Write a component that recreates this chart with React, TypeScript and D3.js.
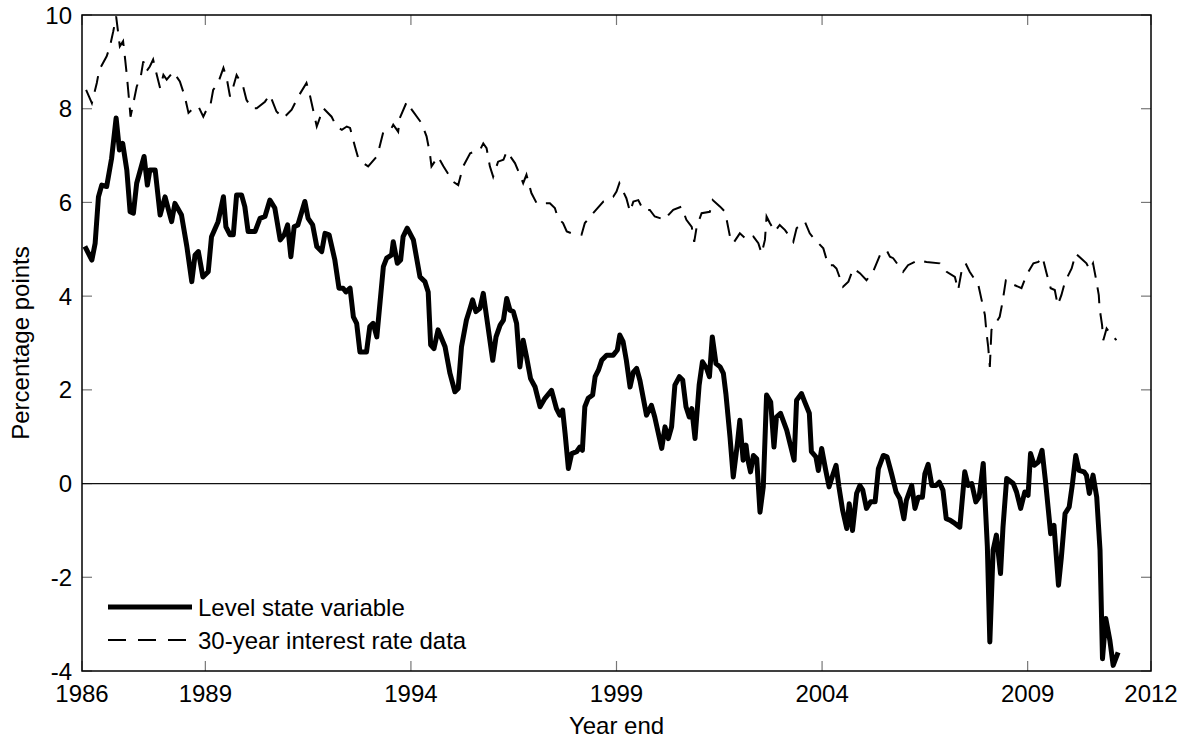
import * as d3 from 'd3'

// decimal years, with the matching values
const levelYears = [1986.07,1986.24,1986.32,1986.40,1986.48,1986.60,1986.72,1986.83,1986.91,1986.99,1987.09,1987.17,1987.25,1987.33,1987.51,1987.59,1987.65,1987.78,1987.90,1988.02,1988.18,1988.26,1988.42,1988.55,1988.67,1988.75,1988.83,1988.94,1989.07,1989.15,1989.31,1989.44,1989.50,1989.60,1989.68,1989.76,1989.88,1989.96,1990.04,1990.21,1990.33,1990.45,1990.57,1990.69,1990.82,1990.92,1991.00,1991.08,1991.16,1991.25,1991.42,1991.50,1991.61,1991.71,1991.83,1991.91,1992.01,1992.15,1992.25,1992.35,1992.42,1992.52,1992.60,1992.68,1992.76,1992.92,1993.00,1993.08,1993.17,1993.33,1993.41,1993.53,1993.57,1993.67,1993.75,1993.81,1993.91,1994.06,1994.22,1994.34,1994.42,1994.48,1994.56,1994.66,1994.83,1994.95,1995.07,1995.15,1995.23,1995.35,1995.44,1995.50,1995.58,1995.68,1995.76,1995.84,1995.99,1996.07,1996.17,1996.25,1996.33,1996.41,1996.49,1996.57,1996.65,1996.73,1996.81,1996.91,1997.02,1997.14,1997.26,1997.42,1997.54,1997.62,1997.69,1997.75,1997.83,1997.91,1998.03,1998.11,1998.17,1998.23,1998.31,1998.42,1998.48,1998.56,1998.64,1998.76,1998.92,1999.02,1999.08,1999.16,1999.24,1999.33,1999.41,1999.49,1999.57,1999.73,1999.85,1999.93,2000.10,2000.18,2000.26,2000.34,2000.42,2000.53,2000.61,2000.69,2000.77,2000.83,2000.91,2001.01,2001.09,2001.19,2001.26,2001.33,2001.42,2001.52,2001.60,2001.66,2001.76,2001.84,2001.94,2002.00,2002.08,2002.15,2002.19,2002.26,2002.33,2002.41,2002.49,2002.57,2002.65,2002.75,2002.83,2002.89,2002.99,2003.14,2003.23,2003.32,2003.38,2003.50,2003.58,2003.69,2003.74,2003.85,2003.91,2003.99,2004.09,2004.17,2004.27,2004.34,2004.41,2004.50,2004.60,2004.66,2004.74,2004.84,2004.92,2004.99,2005.08,2005.18,2005.29,2005.37,2005.49,2005.58,2005.69,2005.80,2005.89,2005.99,2006.05,2006.18,2006.26,2006.34,2006.44,2006.50,2006.58,2006.67,2006.77,2006.85,2006.94,2007.02,2007.11,2007.23,2007.35,2007.47,2007.55,2007.64,2007.74,2007.82,2007.92,2008.02,2008.08,2008.16,2008.24,2008.34,2008.40,2008.49,2008.65,2008.73,2008.83,2008.93,2009.01,2009.07,2009.16,2009.26,2009.35,2009.44,2009.56,2009.64,2009.75,2009.82,2009.91,2010.01,2010.09,2010.17,2010.25,2010.37,2010.43,2010.50,2010.59,2010.68,2010.76,2010.82,2010.90,2011.00,2011.08,2011.20]
const levelValues = [5.06,4.77,5.13,6.12,6.37,6.34,6.94,7.80,7.12,7.26,6.69,5.80,5.77,6.41,6.98,6.37,6.69,6.69,5.73,6.12,5.59,5.98,5.73,5.06,4.31,4.88,4.95,4.41,4.52,5.27,5.59,6.12,5.48,5.31,5.31,6.16,6.16,5.91,5.38,5.38,5.66,5.70,6.05,5.88,5.20,5.31,5.52,4.84,5.48,5.52,6.02,5.66,5.52,5.06,4.95,5.34,5.31,4.77,4.17,4.17,4.09,4.17,3.56,3.42,2.81,2.81,3.35,3.42,3.13,4.63,4.81,4.88,5.16,4.70,4.77,5.27,5.45,5.20,4.41,4.31,4.09,2.96,2.88,3.28,2.92,2.35,1.96,2.03,2.92,3.49,3.74,3.92,3.67,3.74,4.06,3.56,2.63,3.13,3.38,3.49,3.95,3.70,3.67,3.42,2.49,3.06,2.71,2.24,2.06,1.64,1.82,1.99,1.60,1.46,1.57,1.07,0.32,0.64,0.68,0.78,0.71,1.64,1.82,1.89,2.28,2.42,2.63,2.74,2.74,2.85,3.17,3.03,2.63,2.06,2.38,2.46,2.20,1.46,1.67,1.42,0.75,1.21,0.96,1.21,2.10,2.28,2.21,1.64,1.42,1.60,0.96,2.10,2.60,2.46,2.28,3.13,2.56,2.49,2.35,1.92,1.00,0.14,0.85,1.35,0.50,0.82,0.53,0.25,0.60,0.53,-0.61,-0.07,1.89,1.74,0.78,1.42,1.50,1.14,0.82,0.50,1.78,1.92,1.74,1.50,0.68,0.57,0.28,0.75,0.28,-0.07,0.21,0.39,-0.07,-0.57,-0.96,-0.43,-1.00,-0.21,-0.04,-0.14,-0.53,-0.39,-0.39,0.32,0.60,0.57,0.21,-0.18,-0.32,-0.75,-0.36,-0.04,-0.53,-0.29,-0.29,0.21,0.41,-0.04,-0.04,0.03,-0.14,-0.75,-0.78,-0.85,-0.93,0.25,-0.04,0.00,-0.39,-0.29,0.43,-1.35,-3.38,-1.42,-1.10,-1.92,-0.93,0.11,0.00,-0.18,-0.53,-0.18,-0.25,0.64,0.39,0.46,0.71,0.00,-1.07,-0.89,-2.17,-1.57,-0.64,-0.50,0.00,0.60,0.28,0.25,0.18,-0.21,0.18,-0.29,-1.42,-3.74,-2.88,-3.35,-3.88,-3.60]

const rateYears = [1986.10,1986.24,1986.36,1986.42,1986.60,1986.68,1986.76,1986.83,1986.88,1986.92,1987.00,1987.05,1987.09,1987.13,1987.18,1987.25,1987.33,1987.43,1987.49,1987.56,1987.65,1987.73,1987.82,1987.90,1987.98,1988.06,1988.22,1988.38,1988.50,1988.59,1988.71,1988.83,1988.95,1989.03,1989.11,1989.19,1989.31,1989.44,1989.52,1989.60,1989.68,1989.76,1989.92,1990.00,1990.13,1990.25,1990.45,1990.57,1990.73,1990.90,1991.10,1991.26,1991.46,1991.54,1991.71,1991.87,1992.07,1992.19,1992.32,1992.44,1992.52,1992.64,1992.72,1992.84,1992.96,1993.17,1993.23,1993.33,1993.53,1993.57,1993.69,1993.73,1993.90,1994.02,1994.26,1994.38,1994.46,1994.50,1994.66,1994.79,1995.03,1995.15,1995.27,1995.44,1995.68,1995.76,1995.84,1995.92,1996.00,1996.12,1996.25,1996.33,1996.53,1996.65,1996.73,1996.81,1996.93,1997.06,1997.38,1997.50,1997.58,1997.70,1997.79,1997.91,1998.15,1998.23,1998.43,1998.68,1998.92,1999.00,1999.07,1999.24,1999.33,1999.41,1999.53,1999.65,1999.81,1999.93,2000.18,2000.26,2000.38,2000.58,2000.70,2000.83,2000.89,2000.95,2001.07,2001.27,2001.34,2001.52,2001.64,2001.68,2001.76,2001.84,2002.00,2002.18,2002.33,2002.45,2002.53,2002.61,2002.65,2002.73,2002.85,2002.97,2003.10,2003.30,2003.38,2003.58,2003.70,2003.83,2003.91,2004.03,2004.15,2004.27,2004.35,2004.51,2004.64,2004.76,2004.92,2005.08,2005.24,2005.41,2005.57,2005.65,2005.73,2005.97,2006.09,2006.34,2006.54,2006.86,2007.03,2007.23,2007.31,2007.39,2007.49,2007.59,2007.80,2007.88,2007.96,2008.00,2008.04,2008.08,2008.12,2008.19,2008.32,2008.39,2008.47,2008.57,2008.67,2008.85,2008.97,2009.14,2009.26,2009.36,2009.46,2009.56,2009.66,2009.73,2009.82,2009.91,2010.07,2010.17,2010.43,2010.51,2010.59,2010.66,2010.73,2010.75,2010.81,2010.84,2010.92,2011.00,2011.16]
const rateValues = [8.40,8.12,8.55,8.83,9.12,9.33,9.65,9.97,9.62,9.33,9.44,9.05,8.72,8.33,7.83,8.12,8.47,8.69,9.01,8.79,8.90,9.05,8.72,8.44,8.72,8.62,8.79,8.58,8.26,7.91,8.01,8.05,7.83,7.98,8.01,8.40,8.55,8.87,8.65,8.26,8.47,8.72,8.47,8.19,8.01,8.01,8.15,8.30,7.94,7.80,7.98,8.26,8.55,8.30,7.62,8.01,7.83,7.62,7.55,7.62,7.59,7.19,6.94,6.84,6.77,6.98,7.16,7.51,7.59,7.66,7.51,7.80,8.15,7.98,7.69,7.41,7.05,6.77,6.98,6.77,6.44,6.37,6.77,7.05,7.12,7.26,7.16,6.77,6.55,6.87,6.91,7.09,6.84,6.59,6.41,6.59,6.20,5.98,5.98,5.88,5.66,5.56,5.38,5.34,5.31,5.56,5.77,6.02,6.12,6.23,6.41,6.09,5.80,6.02,6.05,5.84,5.84,5.70,5.63,5.73,5.84,5.91,5.63,5.48,5.16,5.48,5.77,5.80,6.05,5.91,5.80,5.63,5.27,5.13,5.34,5.20,5.27,5.13,4.91,5.20,5.70,5.56,5.38,5.52,5.41,5.16,5.45,5.59,5.34,5.20,5.13,5.02,4.66,4.66,4.59,4.20,4.31,4.59,4.49,4.34,4.52,4.88,4.98,4.84,4.81,4.52,4.66,4.77,4.73,4.70,4.52,4.41,4.13,4.52,4.70,4.52,4.24,3.92,3.60,3.21,2.92,2.49,3.28,3.38,3.56,3.88,4.34,4.34,4.24,4.17,4.45,4.70,4.73,4.84,4.49,4.17,4.13,3.81,4.02,4.31,4.59,4.91,4.70,4.56,4.70,4.38,4.02,3.74,3.38,3.06,3.31,3.21,3.06]

const xTicks = [1986, 1989, 1994, 1999, 2004, 2009, 2012]
const yTicks = [-4, -2, 0, 2, 4, 6, 8, 10]
const seriesNames = ['Level state variable', '30-year interest rate data']

const FONT = '"Liberation Sans", Arial, sans-serif'

export default function App() {
  const W = 1188, H = 738
  const L = 82, R = 1151, T = 15, B = 671
  const x = d3.scaleLinear().domain([1986, 2012]).range([L, R])
  const y = d3.scaleLinear().domain([-4, 10]).range([B, T])
  const line = d3.line<[number, number]>().x(d => x(d[0])).y(d => y(d[1]))
  const level = d3.zip(levelYears, levelValues) as [number, number][]
  const rate = d3.zip(rateYears, rateValues) as [number, number][]
  const tk = 10
  return (
    <svg width={W} height={H} style={{ position: 'absolute', left: 0, top: 0, background: '#fff' }} fontFamily={FONT}>
      <rect x={0} y={0} width={W} height={H} fill="#fff" />
      {xTicks.map(t => (
        <g key={'x' + t}>
          <line x1={x(t)} x2={x(t)} y1={B} y2={B - tk} stroke="#777" strokeWidth={1.2} />
          <line x1={x(t)} x2={x(t)} y1={T} y2={T + tk} stroke="#777" strokeWidth={1.2} />
          <text x={x(t)} y={693} textAnchor="middle" dominantBaseline="central" fontSize={24}>{t}</text>
        </g>
      ))}
      {yTicks.map(t => (
        <g key={'y' + t}>
          <line x1={L} x2={L + tk} y1={y(t)} y2={y(t)} stroke="#777" strokeWidth={1.2} />
          <line x1={R} x2={R - tk} y1={y(t)} y2={y(t)} stroke="#777" strokeWidth={1.2} />
          <text x={72} y={y(t)} textAnchor="end" dominantBaseline="central" fontSize={24}>{t}</text>
        </g>
      ))}
      <line x1={L} x2={R} y1={y(0)} y2={y(0)} stroke="#111" strokeWidth={1.2} />
      <path d={line(rate) || ''} fill="none" stroke="#000" strokeWidth={2} strokeDasharray="16 10" />
      <path d={line(level) || ''} fill="none" stroke="#000" strokeWidth={5} strokeLinejoin="round" />
      <rect x={L} y={T} width={R - L} height={B - T} fill="none" stroke="#000" strokeWidth={1.5} />
      <line x1={108} x2={192} y1={607} y2={607} stroke="#000" strokeWidth={5} />
      <text x={198} y={607} dominantBaseline="central" fontSize={24}>{seriesNames[0]}</text>
      <line x1={108} x2={187} y1={640} y2={640} stroke="#000" strokeWidth={2} strokeDasharray="18 12" />
      <text x={198} y={640} dominantBaseline="central" fontSize={24}>{seriesNames[1]}</text>
      <text x={(L + R) / 2} y={725} textAnchor="middle" dominantBaseline="central" fontSize={24}>Year end</text>
      <text transform={`translate(20,${(T + B) / 2}) rotate(-90)`} textAnchor="middle" dominantBaseline="central" fontSize={24}>Percentage points</text>
    </svg>
  )
}
